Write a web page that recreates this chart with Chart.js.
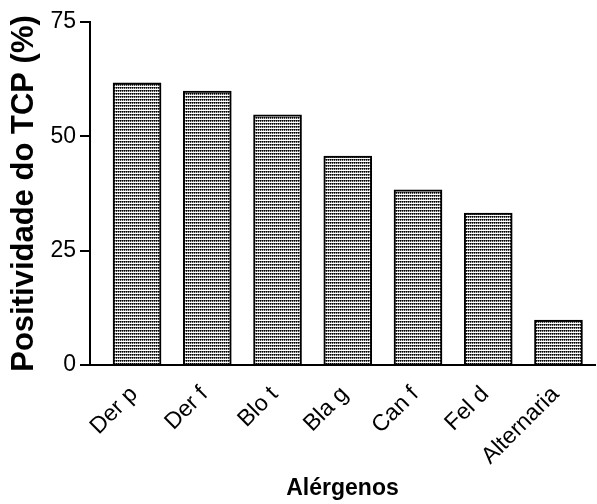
<!DOCTYPE html>
<html>
<head>
<meta charset="utf-8">
<script src="https://cdn.jsdelivr.net/npm/chart.js@4/dist/chart.umd.min.js"></script>
<style>
  html, body { margin: 0; padding: 0; background: #fff; }
  #wrap { width: 597px; height: 504px; }
</style>
</head>
<body>
<div id="wrap"><canvas id="c" width="597" height="504"></canvas></div>
<script>
const categories = ["Der p", "Der f", "Blo t", "Bla g", "Can f", "Fel d", "Alternaria"];
const positividade = [61.7, 59.9, 54.7, 45.7, 38.3, 33.2, 9.8];
const yTicks = [0, 25, 50, 75];

function makePattern() {
  const p = document.createElement('canvas');
  p.width = 2; p.height = 3;
  const g = p.getContext('2d');
  g.fillStyle = '#ffffff';
  g.fillRect(0, 0, 2, 3);
  g.fillStyle = '#000000';
  g.fillRect(0, 0, 1, 1);
  g.fillStyle = '#666666';
  g.fillRect(1, 0, 1, 1);
  g.fillStyle = '#444444';
  g.fillRect(0, 1, 1, 1);
  g.fillStyle = '#cccccc';
  g.fillRect(1, 1, 1, 1);
  return document.getElementById('c').getContext('2d').createPattern(p, 'repeat');
}

const FONT = "'Liberation Sans', Arial, sans-serif";

new Chart(document.getElementById('c'), {
  type: 'bar',
  data: {
    datasets: [{
      data: categories.map((c, i) => ({ x: i, y: positividade[i] })),
      backgroundColor: makePattern(),
      borderColor: '#000',
      borderWidth: 2,
      borderSkipped: 'bottom',
      barThickness: 48
    }]
  },
  options: {
    responsive: false,
    animation: false,
    layout: { padding: { top: 22, right: 2, left: 0, bottom: 0 } },
    plugins: { legend: { display: false }, tooltip: { enabled: false } },
    scales: {
      x: {
        type: 'linear',
        offset: false,
        min: -0.67,
        max: 6.52,
        afterBuildTicks: (s) => { s.ticks = categories.map((c, i) => ({ value: i })); },
        afterFit: (s) => { s.height = 139; s.paddingRight = 0; },
        grid: { display: false, drawTicks: false },
        border: { display: true, color: '#000', width: 2 },
        ticks: {
          callback: (v) => categories[v],
          minRotation: 45, maxRotation: 45,
          color: '#000',
          padding: 16,
          labelOffset: -3,
          font: { family: FONT, size: 23 }
        },
        title: {
          display: true, text: 'Alérgenos', color: '#000',
          font: { family: FONT, size: 23, weight: 'bold' },
          padding: { top: 0, bottom: 2 }
        }
      },
      y: {
        min: 0, max: 75,
        afterBuildTicks: (s) => { s.ticks = yTicks.map(v => ({ value: v })); },
        afterFit: (s) => { s.width = 90; },
        grid: { display: true, drawOnChartArea: false, drawTicks: true, tickLength: 10, color: '#000', lineWidth: 2 },
        border: { display: true, color: '#000', width: 2 },
        ticks: {
          color: '#000', padding: 4,
          font: { family: FONT, size: 23 }
        },
        title: {
          display: true, text: 'Positividade do TCP (%)', color: '#000',
          font: { family: FONT, size: 31, weight: 'bold' },
          padding: { top: 6, bottom: 0 }
        }
      }
    }
  }
});
</script>
</body>
</html>
